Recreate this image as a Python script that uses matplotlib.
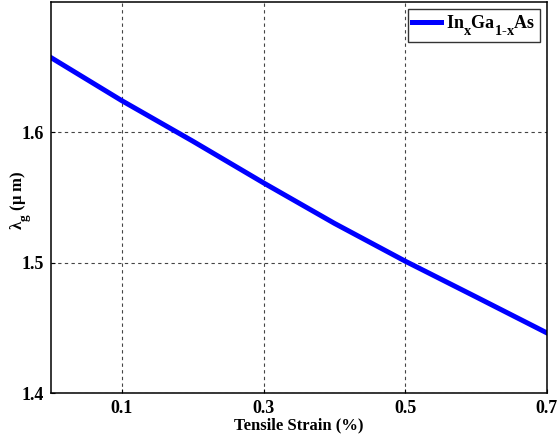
import matplotlib
matplotlib.use("Agg")
import matplotlib.pyplot as plt
import matplotlib._mathtext as mt

strain = [0.0, 0.1, 0.2, 0.3, 0.4, 0.5, 0.6, 0.7]
lambda_g = [1.657, 1.624, 1.593, 1.561, 1.530, 1.501, 1.4736, 1.446]
xticks = [0.1, 0.3, 0.5, 0.7]
yticks = [1.4, 1.5, 1.6]

try:
    mt.FontConstantsBase.sub1 = 0.8
    mt.FontConstantsBase.sub2 = 0.9
    mt.SHRINK_FACTOR = 0.8
except Exception:
    pass

plt.rcParams['font.family'] = ['Liberation Serif', 'DejaVu Serif']
plt.rcParams['font.weight'] = 'bold'
plt.rcParams['mathtext.fontset'] = 'custom'
plt.rcParams['mathtext.rm'] = 'Liberation Serif:bold'
plt.rcParams['mathtext.bf'] = 'Liberation Serif:bold'
plt.rcParams['mathtext.it'] = 'Liberation Serif:bold'

fig = plt.figure(figsize=(5.58, 4.43), dpi=100)
ax = fig.add_axes([51/558, 1 - 393/443, 496/558, 391.5/443])

ax.plot(strain, lambda_g, color='#0000ff', lw=3.6, label=r'$\mathbf{In_xGa_{1\text{-}x}As}$')
ax.set_xlim(0, 0.7)
ax.set_ylim(1.4, 1.7)
ax.set_xticks(xticks)
ax.set_xticklabels(['0.1', '0.3', '0.5', '0.7'])
ax.set_yticks(yticks)
ax.set_yticklabels(['1.4', '1.5', '1.6'])
ax.tick_params(direction='in', length=3, width=0.8, labelsize=13, pad=5)
for lab in ax.get_xticklabels() + ax.get_yticklabels():
    lab.set_fontweight('bold')
ax.grid(True, color='#444444', linestyle=(0, (3, 3)), linewidth=0.8)
for s in ax.spines.values():
    s.set_linewidth(1.1)
    s.set_color('black')

ax.set_xlabel('Tensile Strain (%)', fontsize=12, fontweight='bold', labelpad=0)
ax.set_ylabel(r'λ$_\mathbf{g}$ (μ m)', fontsize=12, fontweight='bold')
ax.yaxis.set_label_coords(-0.034, 0.493)

leg = ax.legend(loc='upper right', fontsize=13, frameon=True, fancybox=False,
                handlelength=1.6, borderpad=0.25, handletextpad=0.3,
                borderaxespad=0, bbox_to_anchor=(0.986, 0.981))
leg.get_frame().set_edgecolor('black')
leg.get_frame().set_linewidth(1.0)

fig.savefig('out.png', dpi=100)
